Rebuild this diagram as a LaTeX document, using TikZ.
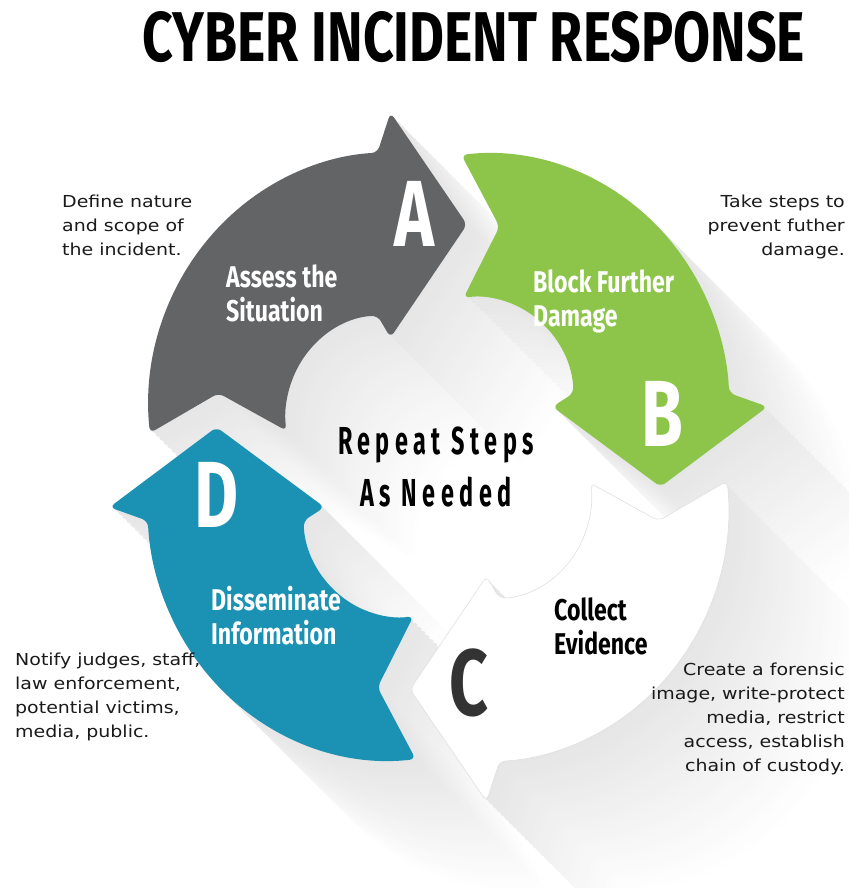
\documentclass[tikz,border=0pt]{standalone}
\usepackage{fontspec}
\usepackage{graphicx}
\setmainfont{DejaVu Sans}
\newfontfamily\headfont[FakeStretch=0.64]{Fira Sans}
\newfontfamily\letterfont[FakeStretch=0.72]{Fira Sans}
\newfontfamily\labelfont[FakeStretch=0.77]{Fira Sans}
\newfontfamily\repeatfont[FakeStretch=0.6,LetterSpace=14]{Fira Sans}
\newfontfamily\notefont[FakeStretch=1.15]{DejaVu Sans}

\definecolor{stepgray}{RGB}{99,100,102}
\definecolor{stepgreen}{RGB}{141,197,75}
\definecolor{stepteal}{RGB}{27,146,179}
\definecolor{lettergray}{RGB}{51,51,51}
\definecolor{notetext}{RGB}{26,26,26}

% One curved arrow of the cycle, drawn in screen orientation (y down),
% tail on the left, head at the top pointing right.
\newcommand{\cyclearrowpath}{%
  ([shift={(-48,-49)}]173.8:242) arc[start angle=173.8, end angle=266.9, radius=242]
  -- (-48,-329) -- (28.5,-222) -- (-48,-114)
  -- ([shift={(-56.4,-38.6)}]267.3:96.5) arc[start angle=267.3, end angle=171.9, radius=96.5]
  -- (-220,-61) -- cycle}

\tikzset{
  cyclewheel/.style={shift={(438.5,431)}, yscale=-1.047},
  arrowbody/.style={rounded corners=6pt},
  steplabel/.style={font=\labelfont\bfseries\fontsize{30}{34}\selectfont, text=white,
    align=left, anchor=base west, inner sep=0pt},
  stepletter/.style={font=\letterfont\bfseries\fontsize{94}{94}\selectfont, text=white,
    anchor=base, inner sep=0pt},
  note/.style={font=\notefont\fontsize{16.5}{24}\selectfont, text=notetext, inner sep=0pt},
}

\begin{document}
\begin{tikzpicture}[x=1pt,y=1pt]
\useasboundingbox (0,0) rectangle (848,888);
\fill[white] (0,0) rectangle (848,888);

% long soft shadows falling to the lower right
\foreach \s in {130,126,...,2} {
  \pgfmathsetmacro{\shade}{10*(1-\s/134)}
  \begin{scope}[shift={(\s,-\s)}]
    \begin{scope}[cyclewheel]
      \foreach \r in {0,90,180,270}
        \fill[black!\shade, arrowbody, rotate=\r] \cyclearrowpath;
    \end{scope}
  \end{scope}
}

% the four arrows of the cycle
\begin{scope}[cyclewheel]
  \fill[stepgray, arrowbody] \cyclearrowpath;
  \fill[stepgreen, arrowbody, rotate=90] \cyclearrowpath;
  \fill[stepteal, arrowbody, rotate=270] \cyclearrowpath;
  \filldraw[fill=white, draw=black!12, line width=0.6pt, arrowbody, rotate=180] \cyclearrowpath;
\end{scope}

% title
\node[inner sep=0pt] (title) at (474,851)
  {\resizebox{662pt}{50pt}{\headfont\bfseries CYBER INCIDENT RESPONSE}};

% step letters
\node[stepletter] (letterA) at (414,641) {A};
\node[stepletter] (letterB) at (662,441) {B};
\node[stepletter, text=lettergray] (letterC) at (468.5,172) {C};
\node[stepletter] (letterD) at (217,360) {D};

% step names (anchored on the baseline of their last line)
\node[steplabel] (assess) at (226,566) {Assess the\\Situation};
\node[steplabel] (block) at (533,561) {Block Further\\Damage};
\node[steplabel, text=black] (collect) at (554,233) {Collect\\Evidence};
\node[steplabel] (disseminate) at (211,243) {Disseminate\\Information};

% centre text
\node[font=\repeatfont\bfseries\fontsize{39}{52}\selectfont, align=center, anchor=base,
  inner sep=0pt] (repeat) at (436,381) {Repeat Steps\\As Needed};

% notes beside the steps
\node[note, align=left, anchor=base west] (noteA) at (62,632)
  {Define nature\\and scope of\\the incident.};
\node[note, align=right, anchor=base east] (noteB) at (845,632)
  {Take steps to\\prevent futher\\damage.};
\node[note, align=right, anchor=base east] (noteC) at (845,116)
  {Create a forensic\\image, write-protect\\media, restrict\\access, establish\\chain of custody.};
\node[note, align=left, anchor=base west] (noteD) at (15,150)
  {Notify judges, staff,\\law enforcement,\\potential victims,\\media, public.};
\end{tikzpicture}
\end{document}
